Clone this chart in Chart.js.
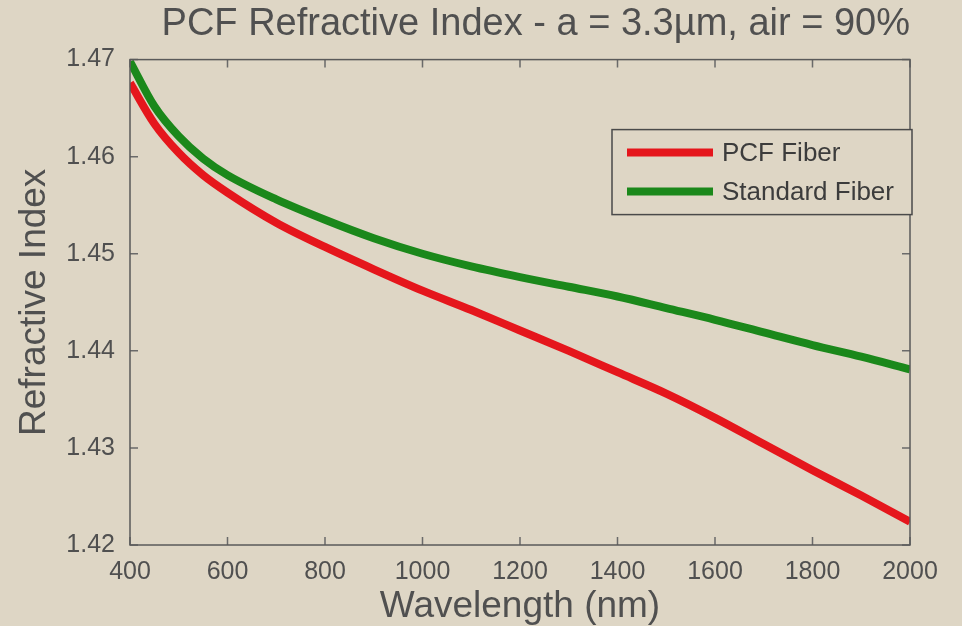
<!DOCTYPE html>
<html>
<head>
<meta charset="utf-8">
<script src="https://cdn.jsdelivr.net/npm/chart.js@4.4.0/dist/chart.umd.min.js"></script>
<style>
  html, body { margin: 0; padding: 0; background: #ded6c5; }
  canvas { display: block; }
</style>
</head>
<body>
<canvas id="chart" width="962" height="626"></canvas>
<script>
// datos (longitud de onda en nm)
const wavelengths = [400, 450, 500, 550, 600, 700, 800, 900, 1000, 1100, 1200, 1300, 1400, 1500, 1600, 1700, 1800, 1900, 2000];
const pcfIndex = [1.4676, 1.4634, 1.4604, 1.4581, 1.4563, 1.4532, 1.4507, 1.4484, 1.4462, 1.4442, 1.4421, 1.4400, 1.4378, 1.4356, 1.4331, 1.4304, 1.4277, 1.4251, 1.4224];
const standardIndex = [1.4698, 1.4652, 1.4621, 1.4598, 1.4581, 1.4556, 1.4535, 1.4516, 1.4500, 1.4487, 1.4476, 1.4466, 1.4456, 1.4444, 1.4432, 1.4419, 1.4406, 1.4394, 1.4381];
const xTicks = [400, 600, 800, 1000, 1200, 1400, 1600, 1800, 2000];
const yTicks = [1.42, 1.43, 1.44, 1.45, 1.46, 1.47];

const FONT = "'Liberation Sans', Arial, sans-serif";
const TEXT = '#505050';

// marco del grafico con marcas hacia dentro (estilo matlab)
const boxPlugin = {
  id: 'box',
  afterDatasetsDraw(chart) {
    const { ctx, chartArea: a, scales: { x, y } } = chart;
    ctx.save();
    ctx.strokeStyle = '#6a6a6a';
    ctx.lineWidth = 1.5;
    ctx.beginPath();
    xTicks.forEach(v => {
      const px = x.getPixelForValue(v);
      ctx.moveTo(px, a.bottom); ctx.lineTo(px, a.bottom - 8);
      ctx.moveTo(px, a.top); ctx.lineTo(px, a.top + 8);
    });
    yTicks.forEach(v => {
      const py = y.getPixelForValue(v);
      ctx.moveTo(a.left, py); ctx.lineTo(a.left + 8, py);
      ctx.moveTo(a.right, py); ctx.lineTo(a.right - 8, py);
    });
    ctx.stroke();
    ctx.strokeStyle = '#5a5a5a';
    ctx.strokeRect(a.left, a.top, a.right - a.left, a.bottom - a.top);
    ctx.restore();
  }
};

// leyenda dentro del area del grafico
const legendPlugin = {
  id: 'insideLegend',
  afterDraw(chart) {
    const { ctx, chartArea: a } = chart;
    const w = 300, h = 85;
    const left = a.right + 2 - w, top = a.top + 70;
    ctx.save();
    ctx.fillStyle = '#ded6c5';
    ctx.fillRect(left, top, w, h);
    ctx.strokeStyle = '#4a4a4a';
    ctx.lineWidth = 1.5;
    ctx.strokeRect(left, top, w, h);
    ctx.font = '26px ' + FONT;
    ctx.textBaseline = 'middle';
    chart.data.datasets.forEach((ds, i) => {
      const cy = top + 23 + i * 39;
      ctx.strokeStyle = ds.borderColor;
      ctx.lineWidth = 8;
      ctx.beginPath();
      ctx.moveTo(left + 15, cy);
      ctx.lineTo(left + 101, cy);
      ctx.stroke();
      ctx.fillStyle = '#3c3c3c';
      ctx.fillText(ds.label, left + 110, cy + 1);
    });
    ctx.restore();
  }
};

const chart = new Chart(document.getElementById('chart'), {
  type: 'line',
  data: {
    datasets: [
      {
        label: 'PCF Fiber',
        data: wavelengths.map((w, i) => ({ x: w, y: pcfIndex[i] })),
        borderColor: '#e5161c',
        borderWidth: 8,
        pointRadius: 0,
        cubicInterpolationMode: 'monotone'
      },
      {
        label: 'Standard Fiber',
        data: wavelengths.map((w, i) => ({ x: w, y: standardIndex[i] })),
        borderColor: '#1b881b',
        borderWidth: 8,
        pointRadius: 0,
        cubicInterpolationMode: 'monotone'
      }
    ]
  },
  options: {
    responsive: false,
    animation: false,
    layout: { padding: { left: 0, right: 52, top: 0, bottom: 0 } },
    plugins: {
      legend: { display: false },
      tooltip: { enabled: false },
      title: {
        display: true,
        text: 'PCF Refractive Index - a = 3.3µm, air = 90%',
        fullSize: false,
        align: 'end',
        color: TEXT,
        font: { family: FONT, size: 38, weight: 'normal', lineHeight: 1.2 },
        padding: { top: 2, bottom: 12 }
      }
    },
    scales: {
      x: {
        type: 'linear',
        min: 400,
        max: 2000,
        afterBuildTicks: s => { s.ticks = xTicks.map(v => ({ value: v })); },
        afterFit: s => { s.height = 81; s.paddingLeft = 0; s.paddingRight = 0; },
        grid: { display: false },
        border: { display: false },
        ticks: {
          color: TEXT,
          padding: 4,
          maxRotation: 0,
          font: { family: FONT, size: 25 },
          callback: v => String(v)
        },
        title: {
          display: true,
          text: 'Wavelength (nm)',
          color: TEXT,
          font: { family: FONT, size: 37, lineHeight: 1 },
          padding: { top: 0, bottom: 1 }
        }
      },
      y: {
        min: 1.42,
        max: 1.47,
        afterBuildTicks: s => { s.ticks = yTicks.map(v => ({ value: v })); },
        afterFit: s => { s.width = 130; s.paddingTop = 0; s.paddingBottom = 0; },
        grid: { display: false },
        border: { display: false },
        ticks: {
          color: TEXT,
          padding: 7,
          font: { family: FONT, size: 25 },
          callback: v => v.toFixed(2)
        },
        title: {
          display: true,
          text: 'Refractive Index',
          color: TEXT,
          font: { family: FONT, size: 37, lineHeight: 1 },
          padding: { top: 16, bottom: 0 }
        }
      }
    }
  },
  plugins: [boxPlugin, legendPlugin]
});
</script>
</body>
</html>
